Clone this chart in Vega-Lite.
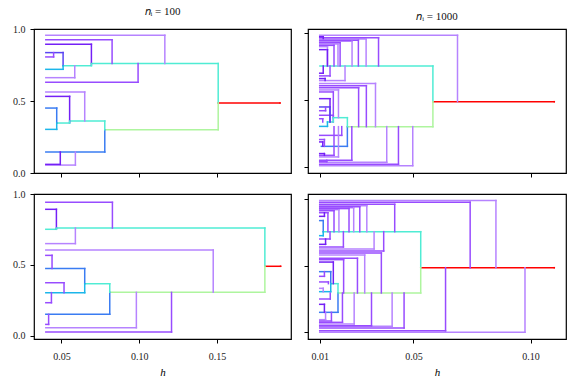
{
  "$schema": "https://vega.github.io/schema/vega-lite/v6.json",
  "background": "white",
  "padding": {"left": 11, "top": 5, "right": 5, "bottom": 5},
  "config": {
    "font": "Liberation Serif",
    "view": {"stroke": "black", "strokeWidth": 1.2},
    "axis": {"domain": false, "grid": false, "tickColor": "black", "tickSize": 4, "tickWidth": 1, "labelFont": "Liberation Serif", "labelFontSize": 10, "labelColor": "#222", "labelPadding": 5, "titleFont": "Liberation Serif", "titleFontStyle": "italic", "titleFontWeight": "normal", "titleFontSize": 11, "titlePadding": 5},
    "axisX": {"labelPadding": 8},
    "title": {"font": "Liberation Serif", "fontSize": 11, "fontWeight": "normal", "offset": 7, "color": "#111"}
  },
  "datasets": {
    "segs": [
      {"p":"TL","c":"lav","y":0.956,"h0":0.04,"h1":0.1165,"yp":0.760},
      {"p":"TL","c":"lav","y":0.662,"h0":0.04,"h1":0.0586,"yp":0.745},
      {"p":"TL","c":"lav","y":0.5625,"h0":0.04,"h1":0.065,"yp":0.361},
      {"p":"TL","c":"lav","y":0.055,"h0":0.04,"h1":0.059,"yp":0.146},
      {"p":"TL","c":"p2","y":0.926,"h0":0.04,"h1":0.0826,"yp":0.760},
      {"p":"TL","c":"p2","y":0.806,"h0":0.04,"h1":0.045,"yp":0.836},
      {"p":"TL","c":"p2","y":0.630,"h0":0.04,"h1":0.0993,"yp":0.760},
      {"p":"TL","c":"p3","y":0.894,"h0":0.04,"h1":0.0693,"yp":0.752},
      {"p":"TL","c":"p3","y":0.532,"h0":0.04,"h1":0.0553,"yp":0.350},
      {"p":"TL","c":"p3","y":0.060,"h0":0.04,"h1":0.0493,"yp":0.146},
      {"p":"TL","c":"b1","y":0.836,"h0":0.04,"h1":0.0511,"yp":0.745},
      {"p":"TL","c":"blue","y":0.451,"h0":0.04,"h1":0.047,"yp":0.347},
      {"p":"TL","c":"blue","y":0.146,"h0":0.04,"h1":0.0779,"yp":0.301},
      {"p":"TL","c":"cyan","y":0.720,"h0":0.04,"h1":0.0511,"yp":0.745},
      {"p":"TL","c":"cyan","y":0.303,"h0":0.04,"h1":0.047,"yp":0.347},
      {"p":"TL","c":"turq","y":0.745,"h0":0.0511,"h1":0.0693,"yp":0.760},
      {"p":"TL","c":"turq","y":0.760,"h0":0.0693,"h1":0.1508,"yp":0.486},
      {"p":"TL","c":"turq","y":0.347,"h0":0.047,"h1":0.0553,"yp":0.361},
      {"p":"TL","c":"turq","y":0.361,"h0":0.0553,"h1":0.0779,"yp":0.301},
      {"p":"TL","c":"green","y":0.301,"h0":0.0779,"h1":0.1508,"yp":0.486},
      {"p":"TL","c":"red","y":0.486,"h0":0.1508,"h1":0.1905,"yp":0.486},

      {"p":"BL","c":"lav","y":0.650,"h0":0.04,"h1":0.059,"yp":0.760},
      {"p":"BL","c":"lav","y":0.605,"h0":0.04,"h1":0.1476,"yp":0.306},
      {"p":"BL","c":"lav","y":0.057,"h0":0.04,"h1":0.0982,"yp":0.306},
      {"p":"BL","c":"p2","y":0.941,"h0":0.04,"h1":0.0828,"yp":0.760},
      {"p":"BL","c":"p2","y":0.567,"h0":0.04,"h1":0.044,"yp":0.474},
      {"p":"BL","c":"p2","y":0.374,"h0":0.04,"h1":0.0517,"yp":0.304},
      {"p":"BL","c":"p2","y":0.233,"h0":0.04,"h1":0.0436,"yp":0.304},
      {"p":"BL","c":"p2","y":0.080,"h0":0.04,"h1":0.0418,"yp":0.151},
      {"p":"BL","c":"p2","y":0.026,"h0":0.04,"h1":0.1208,"yp":0.306},
      {"p":"BL","c":"p3","y":0.892,"h0":0.04,"h1":0.0468,"yp":0.755},
      {"p":"BL","c":"blue","y":0.474,"h0":0.04,"h1":0.065,"yp":0.367},
      {"p":"BL","c":"blue","y":0.151,"h0":0.04,"h1":0.0811,"yp":0.306},
      {"p":"BL","c":"cyan","y":0.304,"h0":0.04,"h1":0.065,"yp":0.367},
      {"p":"BL","c":"turq","y":0.751,"h0":0.04,"h1":0.0468,"yp":0.760},
      {"p":"BL","c":"turq","y":0.760,"h0":0.0468,"h1":0.1808,"yp":0.49},
      {"p":"BL","c":"turq","y":0.367,"h0":0.065,"h1":0.0811,"yp":0.306},
      {"p":"BL","c":"green","y":0.306,"h0":0.0811,"h1":0.1808,"yp":0.49},
      {"p":"BL","c":"red","y":0.49,"h0":0.1808,"h1":0.1909,"yp":0.49},

      {"p":"TR","c":"lav","y":0.983,"h0":0.01,"h1":0.0688,"yp":0.4876},
      {"p":"TR","c":"lav","y":0.955,"h0":0.01,"h1":0.0298,"yp":0.754},
      {"p":"TR","c":"lav","y":0.938,"h0":0.01,"h1":0.0238,"yp":0.754},
      {"p":"TR","c":"lav","y":0.918,"h0":0.01,"h1":0.0178,"yp":0.754},
      {"p":"TR","c":"lav","y":0.898,"h0":0.01,"h1":0.0133,"yp":0.754},
      {"p":"TR","c":"lav","y":0.645,"h0":0.01,"h1":0.0208,"yp":0.754},
      {"p":"TR","c":"lav","y":0.624,"h0":0.01,"h1":0.0338,"yp":0.301},
      {"p":"TR","c":"lav","y":0.575,"h0":0.01,"h1":0.0180,"yp":0.368},
      {"p":"TR","c":"lav","y":0.075,"h0":0.01,"h1":0.0180,"yp":0.301},
      {"p":"TR","c":"lav","y":0.035,"h0":0.01,"h1":0.0386,"yp":0.301},
      {"p":"TR","c":"lav","y":0.010,"h0":0.01,"h1":0.0497,"yp":0.301},
      {"p":"TR","c":"p2","y":0.965,"h0":0.01,"h1":0.0351,"yp":0.754},
      {"p":"TR","c":"p2","y":0.946,"h0":0.01,"h1":0.0265,"yp":0.754},
      {"p":"TR","c":"p2","y":0.928,"h0":0.01,"h1":0.0187,"yp":0.754},
      {"p":"TR","c":"p2","y":0.908,"h0":0.01,"h1":0.0161,"yp":0.754},
      {"p":"TR","c":"p2","y":0.680,"h0":0.01,"h1":0.0144,"yp":0.754},
      {"p":"TR","c":"p2","y":0.607,"h0":0.01,"h1":0.0299,"yp":0.301},
      {"p":"TR","c":"p2","y":0.592,"h0":0.01,"h1":0.0266,"yp":0.301},
      {"p":"TR","c":"p2","y":0.560,"h0":0.01,"h1":0.0158,"yp":0.368},
      {"p":"TR","c":"p2","y":0.420,"h0":0.01,"h1":0.0125,"yp":0.448},
      {"p":"TR","c":"p2","y":0.386,"h0":0.01,"h1":0.0158,"yp":0.336},
      {"p":"TR","c":"p2","y":0.360,"h0":0.01,"h1":0.0113,"yp":0.336},
      {"p":"TR","c":"p2","y":0.236,"h0":0.01,"h1":0.0194,"yp":0.301},
      {"p":"TR","c":"p2","y":0.205,"h0":0.01,"h1":0.0120,"yp":0.154},
      {"p":"TR","c":"p2","y":0.087,"h0":0.01,"h1":0.0161,"yp":0.301},
      {"p":"TR","c":"p2","y":0.050,"h0":0.01,"h1":0.0237,"yp":0.301},
      {"p":"TR","c":"p2","y":0.020,"h0":0.01,"h1":0.0436,"yp":0.301},
      {"p":"TR","c":"p2","y":0.040,"h0":0.01,"h1":0.0130,"yp":0.050},
      {"p":"TR","c":"p3","y":0.972,"h0":0.01,"h1":0.0115,"yp":0.960},
      {"p":"TR","c":"p3","y":0.876,"h0":0.01,"h1":0.0133,"yp":0.754},
      {"p":"TR","c":"p3","y":0.700,"h0":0.01,"h1":0.0115,"yp":0.754},
      {"p":"TR","c":"p3","y":0.660,"h0":0.01,"h1":0.0123,"yp":0.645},
      {"p":"TR","c":"p3","y":0.510,"h0":0.01,"h1":0.0144,"yp":0.336},
      {"p":"TR","c":"p3","y":0.187,"h0":0.01,"h1":0.0113,"yp":0.154},
      {"p":"TR","c":"p3","y":0.100,"h0":0.01,"h1":0.0120,"yp":0.087},
      {"p":"TR","c":"b1","y":0.448,"h0":0.01,"h1":0.0144,"yp":0.336},
      {"p":"TR","c":"blue","y":0.154,"h0":0.0107,"h1":0.0218,"yp":0.301},
      {"p":"TR","c":"cyan","y":0.303,"h0":0.01,"h1":0.0133,"yp":0.336},
      {"p":"TR","c":"turq","y":0.754,"h0":0.0101,"h1":0.0583,"yp":0.4876},
      {"p":"TR","c":"turq","y":0.336,"h0":0.0133,"h1":0.0158,"yp":0.368},
      {"p":"TR","c":"turq","y":0.368,"h0":0.0158,"h1":0.0218,"yp":0.301},
      {"p":"TR","c":"green","y":0.301,"h0":0.0218,"h1":0.0583,"yp":0.4876},
      {"p":"TR","c":"red","y":0.4876,"h0":0.0583,"h1":0.1101,"yp":0.4876},

      {"p":"BR","c":"lav","y":0.988,"h0":0.01,"h1":0.0852,"yp":0.485},
      {"p":"BR","c":"lav","y":0.950,"h0":0.01,"h1":0.0301,"yp":0.755},
      {"p":"BR","c":"lav","y":0.935,"h0":0.01,"h1":0.0245,"yp":0.755},
      {"p":"BR","c":"lav","y":0.920,"h0":0.01,"h1":0.0182,"yp":0.755},
      {"p":"BR","c":"lav","y":0.625,"h0":0.01,"h1":0.0332,"yp":0.755},
      {"p":"BR","c":"lav","y":0.580,"h0":0.01,"h1":0.0292,"yp":0.295},
      {"p":"BR","c":"lav","y":0.330,"h0":0.01,"h1":0.0115,"yp":0.305},
      {"p":"BR","c":"lav","y":0.095,"h0":0.01,"h1":0.0125,"yp":0.150},
      {"p":"BR","c":"lav","y":0.062,"h0":0.01,"h1":0.0247,"yp":0.295},
      {"p":"BR","c":"lav","y":0.045,"h0":0.01,"h1":0.0409,"yp":0.295},
      {"p":"BR","c":"lav","y":0.000,"h0":0.01,"h1":0.0976,"yp":0.485},
      {"p":"BR","c":"p2","y":0.975,"h0":0.01,"h1":0.0742,"yp":0.485},
      {"p":"BR","c":"p2","y":0.960,"h0":0.01,"h1":0.0420,"yp":0.755},
      {"p":"BR","c":"p2","y":0.942,"h0":0.01,"h1":0.0271,"yp":0.755},
      {"p":"BR","c":"p2","y":0.928,"h0":0.01,"h1":0.0225,"yp":0.755},
      {"p":"BR","c":"p2","y":0.912,"h0":0.01,"h1":0.0161,"yp":0.755},
      {"p":"BR","c":"p2","y":0.897,"h0":0.01,"h1":0.0135,"yp":0.755},
      {"p":"BR","c":"p2","y":0.700,"h0":0.01,"h1":0.0144,"yp":0.755},
      {"p":"BR","c":"p2","y":0.640,"h0":0.01,"h1":0.0201,"yp":0.755},
      {"p":"BR","c":"p2","y":0.610,"h0":0.01,"h1":0.0373,"yp":0.755},
      {"p":"BR","c":"p2","y":0.595,"h0":0.01,"h1":0.0363,"yp":0.295},
      {"p":"BR","c":"p2","y":0.555,"h0":0.01,"h1":0.0261,"yp":0.295},
      {"p":"BR","c":"p2","y":0.545,"h0":0.01,"h1":0.0202,"yp":0.295},
      {"p":"BR","c":"p2","y":0.420,"h0":0.01,"h1":0.0120,"yp":0.455},
      {"p":"BR","c":"p2","y":0.378,"h0":0.01,"h1":0.0137,"yp":0.365},
      {"p":"BR","c":"p2","y":0.250,"h0":0.01,"h1":0.0145,"yp":0.295},
      {"p":"BR","c":"p2","y":0.085,"h0":0.01,"h1":0.0150,"yp":0.150},
      {"p":"BR","c":"p2","y":0.075,"h0":0.01,"h1":0.0197,"yp":0.295},
      {"p":"BR","c":"p2","y":0.050,"h0":0.01,"h1":0.0321,"yp":0.295},
      {"p":"BR","c":"p2","y":0.032,"h0":0.01,"h1":0.0460,"yp":0.295},
      {"p":"BR","c":"p2","y":0.012,"h0":0.01,"h1":0.0637,"yp":0.485},
      {"p":"BR","c":"p3","y":0.870,"h0":0.01,"h1":0.0120,"yp":0.897},
      {"p":"BR","c":"p3","y":0.660,"h0":0.01,"h1":0.0125,"yp":0.700},
      {"p":"BR","c":"p3","y":0.527,"h0":0.01,"h1":0.0158,"yp":0.365},
      {"p":"BR","c":"p3","y":0.210,"h0":0.01,"h1":0.0120,"yp":0.150},
      {"p":"BR","c":"blue","y":0.838,"h0":0.01,"h1":0.0115,"yp":0.755},
      {"p":"BR","c":"blue","y":0.455,"h0":0.01,"h1":0.0147,"yp":0.365},
      {"p":"BR","c":"blue","y":0.150,"h0":0.01,"h1":0.0178,"yp":0.295},
      {"p":"BR","c":"cyan","y":0.725,"h0":0.01,"h1":0.0115,"yp":0.755},
      {"p":"BR","c":"cyan","y":0.305,"h0":0.01,"h1":0.0147,"yp":0.365},
      {"p":"BR","c":"turq","y":0.755,"h0":0.0115,"h1":0.0531,"yp":0.485},
      {"p":"BR","c":"turq","y":0.365,"h0":0.0147,"h1":0.0178,"yp":0.295},
      {"p":"BR","c":"green","y":0.295,"h0":0.0178,"h1":0.0531,"yp":0.485},
      {"p":"BR","c":"red","y":0.485,"h0":0.0531,"h1":0.1101,"yp":0.485}
    ]
  },
  "columns": 2,
  "spacing": {"row": 21, "column": 17},
  "bounds": "flush",
  "concat": [
    {
      "width": 257, "height": 144,
      "title": "𝑛ᵢ = 100",
      "data": {"name": "segs"},
      "transform": [{"filter": "datum.p === 'TL'"}],
      "encoding": {
        "color": {"field": "c", "type": "nominal", "legend": null, "scale": {"domain": ["lav","p2","p3","b1","blue","cyan","turq","green","red"], "range": ["#b683ff","#984cff","#7420f6","#5a46f2","#3a7cf2","#1cb6ea","#4fecd4","#aef59e","#ff0000"]}},
        "strokeWidth": {"field": "c", "type": "nominal", "legend": null, "scale": {"domain": ["lav","p2","p3","b1","blue","cyan","turq","green","red"], "range": [1.5,1.5,2.6,2.4,2.4,2.4,2.4,2.4,2.4]}}
      },
      "layer": [
        {"mark": {"type": "rule", "strokeCap": "square"}, "encoding": {
          "x": {"field": "h0", "type": "quantitative", "scale": {"domain": [0.0324, 0.1976], "nice": false, "zero": false}, "axis": {"values": [0.05, 0.1, 0.15], "labels": false, "title": null}},
          "x2": {"field": "h1"},
          "y": {"field": "y", "type": "quantitative", "scale": {"domain": [0, 1], "nice": false, "zero": false}, "axis": {"values": [0, 0.5, 1], "format": ".1f", "title": null}}}},
        {"mark": {"type": "rule", "strokeCap": "square"}, "encoding": {
          "x": {"field": "h1", "type": "quantitative", "axis": {"values": [0.05, 0.1, 0.15], "labels": false, "title": null}},
          "y": {"field": "y", "type": "quantitative", "axis": {"values": [0, 0.5, 1], "format": ".1f", "title": null}},
          "y2": {"field": "yp"}}}
      ]
    },
    {
      "width": 258, "height": 144,
      "title": "𝑛ᵢ = 1000",
      "data": {"name": "segs"},
      "transform": [{"filter": "datum.p === 'TR'"}],
      "encoding": {
        "color": {"field": "c", "type": "nominal", "legend": null, "scale": {"domain": ["lav","p2","p3","b1","blue","cyan","turq","green","red"], "range": ["#b683ff","#984cff","#7420f6","#5a46f2","#3a7cf2","#1cb6ea","#4fecd4","#aef59e","#ff0000"]}},
        "strokeWidth": {"field": "c", "type": "nominal", "legend": null, "scale": {"domain": ["lav","p2","p3","b1","blue","cyan","turq","green","red"], "range": [1.5,1.5,2.6,2.4,2.4,2.4,2.4,2.4,2.4]}}
      },
      "layer": [
        {"mark": {"type": "rule", "strokeCap": "square"}, "encoding": {
          "x": {"field": "h0", "type": "quantitative", "scale": {"domain": [0.005, 0.1151], "nice": false, "zero": false}, "axis": {"values": [0.01, 0.05, 0.1], "labels": false, "title": null}},
          "x2": {"field": "h1"},
          "y": {"field": "y", "type": "quantitative", "scale": {"domain": [-0.045, 1.03], "nice": false, "zero": false}, "axis": {"values": [0, 0.5, 1], "labels": false, "title": null}}}},
        {"mark": {"type": "rule", "strokeCap": "square"}, "encoding": {
          "x": {"field": "h1", "type": "quantitative", "axis": {"values": [0.01, 0.05, 0.1], "labels": false, "title": null}},
          "y": {"field": "y", "type": "quantitative", "axis": {"values": [0, 0.5, 1], "labels": false, "title": null}},
          "y2": {"field": "yp"}}}
      ]
    },
    {
      "width": 257, "height": 145,
      "data": {"name": "segs"},
      "transform": [{"filter": "datum.p === 'BL'"}],
      "encoding": {
        "color": {"field": "c", "type": "nominal", "legend": null, "scale": {"domain": ["lav","p2","p3","b1","blue","cyan","turq","green","red"], "range": ["#b683ff","#984cff","#7420f6","#5a46f2","#3a7cf2","#1cb6ea","#4fecd4","#aef59e","#ff0000"]}},
        "strokeWidth": {"field": "c", "type": "nominal", "legend": null, "scale": {"domain": ["lav","p2","p3","b1","blue","cyan","turq","green","red"], "range": [1.5,1.5,2.6,2.4,2.4,2.4,2.4,2.4,2.4]}}
      },
      "layer": [
        {"mark": {"type": "rule", "strokeCap": "square"}, "encoding": {
          "x": {"field": "h0", "type": "quantitative", "scale": {"domain": [0.0324, 0.1976], "nice": false, "zero": false}, "axis": {"values": [0.05, 0.1, 0.15], "format": ".2f", "title": "h"}},
          "x2": {"field": "h1"},
          "y": {"field": "y", "type": "quantitative", "scale": {"domain": [-0.023, 1.0], "nice": false, "zero": false}, "axis": {"values": [0, 0.5, 1], "format": ".1f", "title": null}}}},
        {"mark": {"type": "rule", "strokeCap": "square"}, "encoding": {
          "x": {"field": "h1", "type": "quantitative", "axis": {"values": [0.05, 0.1, 0.15], "format": ".2f", "title": "h"}},
          "y": {"field": "y", "type": "quantitative", "axis": {"values": [0, 0.5, 1], "format": ".1f", "title": null}},
          "y2": {"field": "yp"}}}
      ]
    },
    {
      "width": 258, "height": 145,
      "data": {"name": "segs"},
      "transform": [{"filter": "datum.p === 'BR'"}],
      "encoding": {
        "color": {"field": "c", "type": "nominal", "legend": null, "scale": {"domain": ["lav","p2","p3","b1","blue","cyan","turq","green","red"], "range": ["#b683ff","#984cff","#7420f6","#5a46f2","#3a7cf2","#1cb6ea","#4fecd4","#aef59e","#ff0000"]}},
        "strokeWidth": {"field": "c", "type": "nominal", "legend": null, "scale": {"domain": ["lav","p2","p3","b1","blue","cyan","turq","green","red"], "range": [1.5,1.5,2.6,2.4,2.4,2.4,2.4,2.4,2.4]}}
      },
      "layer": [
        {"mark": {"type": "rule", "strokeCap": "square"}, "encoding": {
          "x": {"field": "h0", "type": "quantitative", "scale": {"domain": [0.005, 0.1151], "nice": false, "zero": false}, "axis": {"values": [0.01, 0.05, 0.1], "format": ".2f", "title": "h"}},
          "x2": {"field": "h1"},
          "y": {"field": "y", "type": "quantitative", "scale": {"domain": [-0.05, 1.0375], "nice": false, "zero": false}, "axis": {"values": [0, 0.5, 1], "labels": false, "title": null}}}},
        {"mark": {"type": "rule", "strokeCap": "square"}, "encoding": {
          "x": {"field": "h1", "type": "quantitative", "axis": {"values": [0.01, 0.05, 0.1], "format": ".2f", "title": "h"}},
          "y": {"field": "y", "type": "quantitative", "axis": {"values": [0, 0.5, 1], "labels": false, "title": null}},
          "y2": {"field": "yp"}}}
      ]
    }
  ]
}
